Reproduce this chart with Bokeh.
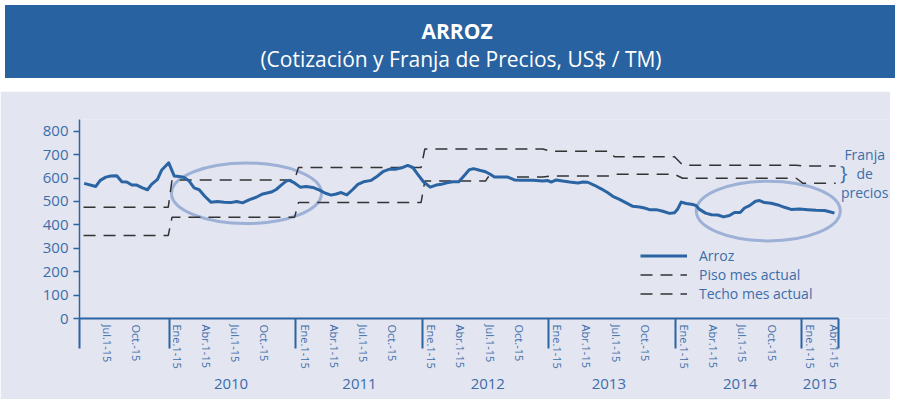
from bokeh.plotting import figure
from bokeh.models import (FixedTicker, LinearAxis, Legend, LegendItem, Label, Div,
                          Range1d, CustomJSTickFormatter)
from bokeh.layouts import column
from bokeh.embed import file_html
from bokeh.resources import INLINE

# ---------------- data ----------------
TITLE = "ARROZ"
SUBTITLE = "(Cotización y Franja de Precios, US$ / TM)"

arroz_fecha = [2009.325, 2009.417, 2009.452, 2009.496, 2009.536, 2009.583, 2009.623, 2009.662,
               2009.702, 2009.741, 2009.786, 2009.826, 2009.858, 2009.905, 2009.937, 2009.994,
               2010.037, 2010.077, 2010.116, 2010.156, 2010.195, 2010.235, 2010.279, 2010.327,
               2010.380, 2010.433, 2010.485, 2010.532, 2010.578, 2010.633, 2010.686, 2010.738,
               2010.805, 2010.844, 2010.884, 2010.923, 2010.949, 2010.989, 2011.034, 2011.081,
               2011.134, 2011.187, 2011.234, 2011.279, 2011.319, 2011.358, 2011.403, 2011.450,
               2011.490, 2011.535, 2011.596, 2011.635, 2011.688, 2011.741, 2011.794, 2011.846,
               2011.885, 2011.925, 2011.964, 2012.009, 2012.062, 2012.110, 2012.150, 2012.194,
               2012.241, 2012.289, 2012.334, 2012.373, 2012.405, 2012.453, 2012.500, 2012.537,
               2012.571, 2012.624, 2012.676, 2012.729, 2012.795, 2012.875, 2012.953, 2012.993,
               2013.020, 2013.059, 2013.112, 2013.165, 2013.231, 2013.270, 2013.309, 2013.362,
               2013.415, 2013.468, 2013.507, 2013.560, 2013.613, 2013.665, 2013.718, 2013.758,
               2013.797, 2013.850, 2013.903, 2013.956, 2013.995, 2014.021, 2014.048, 2014.088,
               2014.140, 2014.167, 2014.193, 2014.241, 2014.288, 2014.338, 2014.383, 2014.430,
               2014.470, 2014.515, 2014.549, 2014.589, 2014.636, 2014.668, 2014.707, 2014.760,
               2014.813, 2014.865, 2014.918, 2014.984, 2015.050, 2015.116, 2015.182, 2015.222,
               2015.261]
arroz_valor = [577, 564, 590, 604, 609, 610, 584, 583,
               570, 570, 558, 550, 573, 594, 633, 665,
               609, 607, 602, 587, 558, 550, 522, 497,
               500, 497, 495, 500, 494, 508, 518, 532,
               540, 551, 570, 587, 590, 579, 561, 564,
               560, 548, 535, 527, 532, 538, 528, 551,
               573, 584, 590, 604, 627, 638, 638, 645,
               654, 645, 616, 584, 561, 570, 573, 580,
               584, 584, 612, 636, 640, 633, 627, 616,
               604, 604, 604, 592, 590, 590, 587, 589,
               583, 592, 587, 583, 579, 583, 582, 569,
               554, 537, 522, 509, 494, 479, 476, 472,
               465, 465, 458, 449, 452, 468, 497, 491,
               487, 482, 466, 450, 443, 442, 434, 440,
               453, 453, 472, 482, 501, 504, 495, 492,
               485, 475, 466, 468, 465, 462, 461, 456,
               450]

piso_fecha = [2009.32, 2009.99, 2010.02, 2010.99, 2011.02, 2011.99, 2012.02, 2012.50, 2012.52,
              2012.953, 2013.019, 2013.48, 2013.52, 2013.995, 2014.06, 2014.958, 2015.01, 2015.27]
piso_valor = [354, 354, 433, 433, 495, 495, 587, 587, 604,
              604, 609, 609, 616, 616, 599, 599, 578, 578]

techo_fecha = [2009.32, 2009.99, 2010.02, 2010.99, 2011.02, 2011.99, 2012.02, 2012.953, 2013.019,
               2013.48, 2013.52, 2013.995, 2014.06, 2014.958, 2015.01, 2015.27]
techo_valor = [475, 475, 592, 592, 645, 645, 724, 724, 714,
               714, 691, 691, 655, 655, 651, 651]

mes_pos = [2009.512, 2009.737,
           2010.063, 2010.292, 2010.524, 2010.754,
           2011.072, 2011.302, 2011.534, 2011.765,
           2012.070, 2012.304, 2012.537, 2012.768,
           2013.068, 2013.298, 2013.533, 2013.766,
           2014.074, 2014.304, 2014.536, 2014.768,
           2015.071, 2015.261]
mes_lbl = ["Jul.1-15", "Oct.-15",
           "Ene.1-15", "Abr.1-15", "Jul.1-15", "Oct.-15",
           "Ene.1-15", "Abr.1-15", "Jul.1-15", "Oct.-15",
           "Ene.1-15", "Abr.1-15", "Jul.1-15", "Oct.-15",
           "Ene.1-15", "Abr.1-15", "Jul.1-15", "Oct.-15",
           "Ene.1-15", "Abr.1-15", "Jul.1-15", "Oct.-15",
           "Ene.1-15", "Abr.1-15"]
anio_pos = [2010.487, 2011.503, 2012.518, 2013.476, 2014.515, 2015.146]
anio_lbl = ["2010", "2011", "2012", "2013", "2014", "2015"]
limites = [2009.289, 2010, 2011, 2012, 2013, 2014, 2015, 2015.290]
y_ticks = [0, 100, 200, 300, 400, 500, 600, 700, 800]
X_START, X_AXIS_END, X_VIEW_END = 2009.288, 2015.291, 2015.704

# highlighted periods (ellipses): centre date, centre value, width (years), height (US$)
ell_x = [2010.609, 2014.737]
ell_y = [535, 459]
ell_w = [1.187, 1.139]
ell_h = [259, 255]

# ---------------- style ----------------
BANNER = "#2862a0"
PANEL = "#e3e5f1"
LINE = "#2b64a2"
TXT = "#3b6ea9"
AX = "#2b64a2"
DASH = "#333333"
ELL = "#9db0d6"
FONT = "Open Sans"
W = 890

banner = Div(text=f"""<div style="width:{W}px;height:73px;background:{BANNER};color:#ffffff;
text-align:center;font-family:'{FONT}',sans-serif;box-sizing:border-box;padding-top:13px;padding-left:14px;">
<div style="font-size:21px;font-weight:bold;line-height:27px;">{TITLE}</div>
<div style="font-size:21px;line-height:29px;padding-left:8px;">{SUBTITLE}</div></div>""",
             width=W, height=73)

p = figure(width=W, height=308, x_range=Range1d(X_START, X_VIEW_END), y_range=Range1d(0, 850),
           output_backend="svg", toolbar_location=None,
           min_border_left=79, min_border_right=0, min_border_top=28, min_border_bottom=81)
p.background_fill_color = PANEL
p.border_fill_color = PANEL
p.outline_line_color = None
p.xgrid.visible = False
p.ygrid.visible = False

p.ellipse(x=ell_x, y=ell_y, width=ell_w, height=ell_h, fill_color=None,
          line_color=ELL, line_width=3)
r_piso = p.line(piso_fecha, piso_valor, line_color=DASH, line_width=1.5, line_dash="12 8")
r_techo = p.line(techo_fecha, techo_valor, line_color=DASH, line_width=1.5, line_dash="12 8")
r_arroz = p.line(arroz_fecha, arroz_valor, line_color=LINE, line_width=3, line_join="round")

# y axis
ya = p.yaxis[0]
ya.ticker = FixedTicker(ticks=y_ticks)
ya.axis_line_color = AX
ya.axis_line_width = 1.5
ya.major_tick_line_color = AX
ya.major_tick_line_width = 1.5
ya.major_tick_out = 6
ya.major_tick_in = 0
ya.minor_tick_line_color = None
ya.major_label_text_color = TXT
ya.major_label_text_font = FONT
ya.major_label_text_font_size = "15px"
ya.major_label_standoff = 5

def lookup_formatter(pos, lbl):
    return CustomJSTickFormatter(args=dict(pos=pos, lbl=lbl), code="""
        let best = 0, bd = 1e9;
        for (let i = 0; i < pos.length; i++) {
            const d = Math.abs(pos[i] - tick);
            if (d < bd) { bd = d; best = i; }
        }
        return lbl[best];
    """)

# x axis with month labels and year-boundary ticks
xa = p.xaxis[0]
xa.ticker = FixedTicker(ticks=mes_pos, minor_ticks=limites)
xa.formatter = lookup_formatter(mes_pos, mes_lbl)
xa.bounds = (X_START, X_AXIS_END)
xa.axis_line_color = AX
xa.axis_line_width = 2
xa.major_tick_line_color = None
xa.major_tick_out = 0
xa.major_tick_in = 0
xa.minor_tick_line_color = AX
xa.minor_tick_line_width = 2
xa.minor_tick_out = 30
xa.minor_tick_in = 0
xa.major_label_orientation = "vertical"
xa.major_label_text_color = TXT
xa.major_label_text_font = FONT
xa.major_label_text_font_size = "11px"
xa.major_label_standoff = -24

# year labels axis
ya2 = LinearAxis(ticker=FixedTicker(ticks=anio_pos, minor_ticks=[]),
                 formatter=lookup_formatter(anio_pos, anio_lbl))
ya2.bounds = (X_START, X_AXIS_END)
ya2.axis_line_color = None
ya2.major_tick_line_color = None
ya2.minor_tick_line_color = None
ya2.major_label_text_color = TXT
ya2.major_label_text_font = FONT
ya2.major_label_text_font_size = "15px"
ya2.major_label_standoff = 1
p.add_layout(ya2, "below")

legend = Legend(items=[LegendItem(label="Arroz", renderers=[r_arroz]),
                       LegendItem(label="Piso mes actual", renderers=[r_piso]),
                       LegendItem(label="Techo mes actual", renderers=[r_techo])],
                location=(561, 15), background_fill_alpha=0, border_line_color=None,
                padding=0, margin=0, spacing=0, label_text_color=TXT, label_text_font=FONT,
                label_text_font_size="14px", glyph_width=47, glyph_height=19,
                label_height=19, label_standoff=12)
p.add_layout(legend)

p.add_layout(Label(x=2015.335, y=624, text="}", text_align="center", text_baseline="middle",
                   text_font=FONT, text_font_size="20px", text_color=TXT))
p.add_layout(Label(x=2015.50, y=620, text="Franja\nde\nprecios", text_align="center",
                   text_baseline="middle", text_font=FONT, text_font_size="14px",
                   text_color=TXT, text_line_height=1.0))

layout = column(banner, p, spacing=8)
open("out.html", "w").write(file_html(layout, INLINE))
